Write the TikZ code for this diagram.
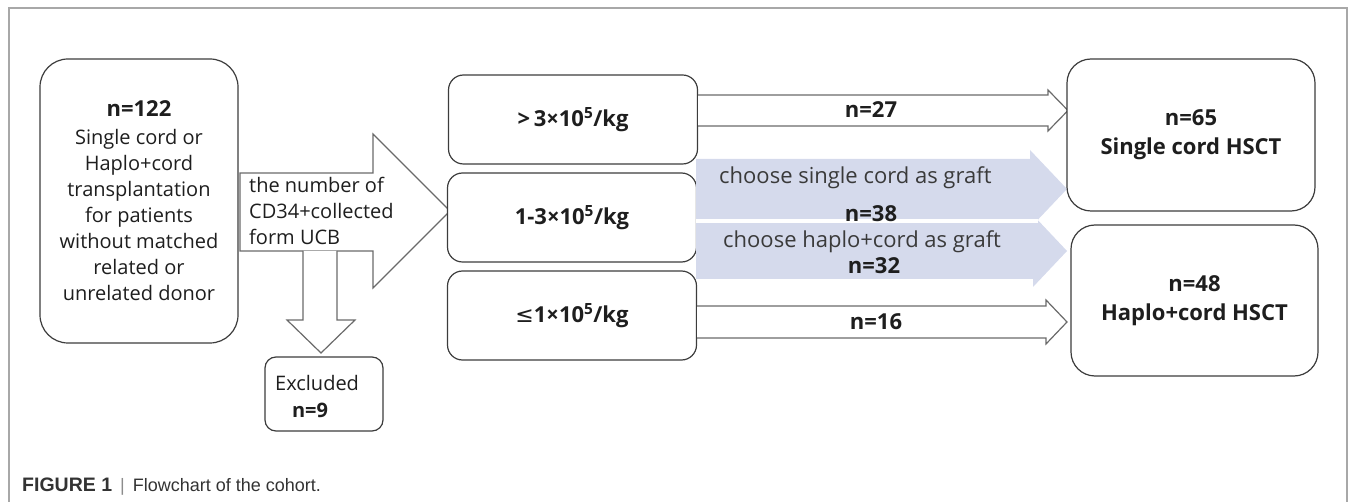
\documentclass[tikz,border=0pt]{standalone}
\usepackage{fontspec}
\setmainfont{Open Sans}
\newfontfamily\capfont{Liberation Sans}
\newfontfamily\symfont{DejaVu Sans}
\definecolor{boxline}{HTML}{3C3C3C}
\definecolor{arrline}{HTML}{6A6A6A}
\definecolor{framecol}{HTML}{A8A8A8}
\definecolor{graftblue}{HTML}{D5DAEC}
\definecolor{txt}{HTML}{1E1E1E}
\definecolor{softtxt}{HTML}{3A3A3A}
\tikzset{
  box/.style={draw=boxline, line width=1.2pt, fill=white, inner sep=0pt, align=center, text=txt},
  blockarrow/.style={draw=arrline, line width=1.2pt, fill=white, line join=miter},
  bigtxt/.style={font=\fontsize{22}{29}\selectfont\bfseries, text=txt, inner sep=0pt, align=center},
  plaintxt/.style={font=\fontsize{20}{26}\selectfont, text=txt, inner sep=0pt},
  grafttxt/.style={font=\fontsize{22}{26}\selectfont, text=softtxt, inner sep=0pt, anchor=west},
}
\begin{document}
\begin{tikzpicture}[x=1pt, y=-1pt]
\useasboundingbox (0,0) rectangle (1355,502);

% page frame
\draw[framecol, line width=1.2pt] (9,502) -- (9,8) -- (1347,8) -- (1347,502);

% cohort box
\node[box, minimum width=198pt, minimum height=284pt, rounded corners=28pt] (src) at (139,201) {};
\node[plaintxt, align=center] (srctxt) at (src.center)
  {{\fontsize{22}{26}\selectfont\bfseries n=122}\\[2pt]
   Single cord or\\Haplo+cord\\transplantation\\for patients\\without matched\\related or\\unrelated donor};

% main block arrow with the CD34+ text
\draw[blockarrow] (240,173) -- (373,173) -- (373,134) -- (450,211) -- (373,288) -- (373,251) -- (240,251) -- cycle;
% exclusion arrow
\draw[blockarrow] (303,251) -- (303,320) -- (287,320) -- (321,353) -- (355,320) -- (337,320) -- (337,251);
\node[plaintxt, align=left, anchor=west] (cdtxt) at (249,211) {the number of\\CD34+collected\\form UCB};

% excluded box
\node[box, minimum width=118pt, minimum height=74pt, rounded corners=11pt] (excl) at (324,394) {};
\node[plaintxt, anchor=west] (excltxt) at (275,383) {Excluded};
\node[plaintxt, font=\fontsize{20}{26}\selectfont\bfseries] (exclnum) at (310,410) {n=9};

% dose groups
\node[box, minimum width=249pt, minimum height=89pt, rounded corners=15pt] (high) at (573,119.5) {};
\node[box, minimum width=249pt, minimum height=89pt, rounded corners=15pt] (mid) at (572,217.5) {};
\node[box, minimum width=249pt, minimum height=89pt, rounded corners=15pt] (low) at (572,315.5) {};
\node[bigtxt] at (high.center) {>\,3×10\textsuperscript{5}/kg};
\node[bigtxt] at (mid.center) {1-3×10\textsuperscript{5}/kg};
\node[bigtxt] at (low.center) {{\symfont\mdseries ≤}1×10\textsuperscript{5}/kg};

% graft choice arrows for the middle group
\fill[graftblue] (696,223) -- (1033,223) -- (1033,215) -- (1067,251) -- (1033,287) -- (1033,279) -- (696,279) -- cycle;
\fill[graftblue] (696,159) -- (1030,159) -- (1030,150) -- (1067,189) -- (1030,228) -- (1030,219) -- (696,219) -- cycle;
\fill[white] (696,219.3) rectangle (1037.5,222.8);
\node[grafttxt] (g1) at (719,178) {choose single cord as graft};
\node[bigtxt] (g1n) at (871,214) {n=38};
\node[grafttxt] (g2) at (723,242) {choose haplo+cord as graft};
\node[bigtxt] (g2n) at (874,266) {n=32};

% direct arrows
\draw[blockarrow] (698,95) -- (1048,95) -- (1048,90) -- (1068,110.5) -- (1048,131) -- (1048,126) -- (698,126);
\node[bigtxt] (a27) at (871,110) {n=27};
\draw[blockarrow] (697,306) -- (1046,306) -- (1046,300) -- (1067,322) -- (1046,344) -- (1046,338) -- (697,338);
\node[bigtxt] (a16) at (876,322) {n=16};

% outcome boxes
\node[box, minimum width=248pt, minimum height=152pt, rounded corners=24pt] (single) at (1191,135) {};
\node[bigtxt] at (single.center) {n=65\\Single cord HSCT};
\node[box, minimum width=247pt, minimum height=151pt, rounded corners=24pt] (haplo) at (1194.5,300.5) {};
\node[bigtxt] at (haplo.center) {n=48\\Haplo+cord HSCT};

% caption
\node[anchor=west, inner sep=0pt, font=\capfont\fontsize{18}{22}\selectfont, text=black!80] (cap) at (22,487)
  {{\fontsize{19.5}{22}\selectfont\bfseries FIGURE 1}\hspace{8pt}{\color{black!45}|}\hspace{8pt}Flowchart of the cohort.};
\end{tikzpicture}
\end{document}
